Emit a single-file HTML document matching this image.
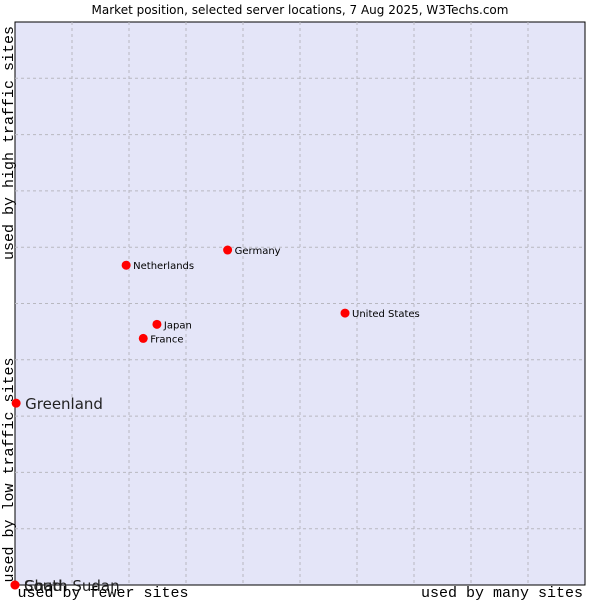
<!DOCTYPE html>
<html><head><meta charset="utf-8"><style>
body{margin:0;background:#fff;width:600px;height:600px;overflow:hidden}
svg{display:block}
</style></head><body>
<svg id="chart" width="600" height="600" xmlns="http://www.w3.org/2000/svg">
<text x="300" y="14" text-anchor="middle" font-family="DejaVu Sans, sans-serif" font-size="12" fill="#000">Market position, selected server locations, 7 Aug 2025, W3Techs.com</text>
<rect x="15" y="22" width="570" height="563" fill="#e4e5f8" stroke="#000" stroke-width="1"/>
<g id="grid"></g>
<g id="points"></g>
<text transform="translate(13,143) rotate(-90)" text-anchor="middle" font-family="Liberation Mono, monospace" font-size="15">used by high traffic sites</text>
<text transform="translate(13,470) rotate(-90)" text-anchor="middle" font-family="Liberation Mono, monospace" font-size="15">used by low traffic sites</text>
<text x="103" y="597" text-anchor="middle" font-family="Liberation Mono, monospace" font-size="15">used by fewer sites</text>
<text x="502" y="597" text-anchor="middle" font-family="Liberation Mono, monospace" font-size="15">used by many sites</text>
</svg>
<script>
const names = ["Netherlands","Germany","United States","Japan","France","Greenland","Chad","South Sudan"];
const xValues = [19.5,37.3,57.9,24.9,22.5,0.2,0,0];
const yValues = [56.8,59.5,48.3,46.3,43.8,32.3,0,0];
const bigLabel = [false,false,false,false,false,true,true,true];
const L=15,T=22,W=570,H=563;
const xs=v=>L+v/100*W, ys=v=>T+H-v/100*H;
const NS="http://www.w3.org/2000/svg";
const grid=document.getElementById('grid');
for(let i=1;i<10;i++){
  const v=document.createElementNS(NS,'line');
  v.setAttribute('x1',xs(i*10));v.setAttribute('x2',xs(i*10));v.setAttribute('y1',T);v.setAttribute('y2',T+H);
  v.setAttribute('stroke','#b8b8c0');v.setAttribute('stroke-dasharray','3,3');
  
  
  grid.appendChild(v);
  const h=document.createElementNS(NS,'line');
  h.setAttribute('y1',ys(i*10));h.setAttribute('y2',ys(i*10));h.setAttribute('x1',L);h.setAttribute('x2',L+W);
  h.setAttribute('stroke','#b8b8c0');h.setAttribute('stroke-dasharray','3,3');
  
  
  grid.appendChild(h);
}
const pg=document.getElementById('points');
names.forEach((n,i)=>{
  const x=xs(xValues[i]),y=ys(yValues[i]);
  const c=document.createElementNS(NS,'circle');
  c.setAttribute('cx',x);c.setAttribute('cy',y);c.setAttribute('r',4.5);c.setAttribute('fill','#f00');
  
  
  pg.appendChild(c);
  const t=document.createElementNS(NS,'text');
  t.textContent=n;
  t.setAttribute('font-family','DejaVu Sans, sans-serif');
  if(bigLabel[i]){t.setAttribute('x',x+9);t.setAttribute('y',y+6);t.setAttribute('font-size','15');t.setAttribute('fill','#222');}
  else{t.setAttribute('x',x+7);t.setAttribute('y',y+4);t.setAttribute('font-size','10');t.setAttribute('fill','#000');}
  
  
  pg.appendChild(t);
});
</script>
</body></html>
